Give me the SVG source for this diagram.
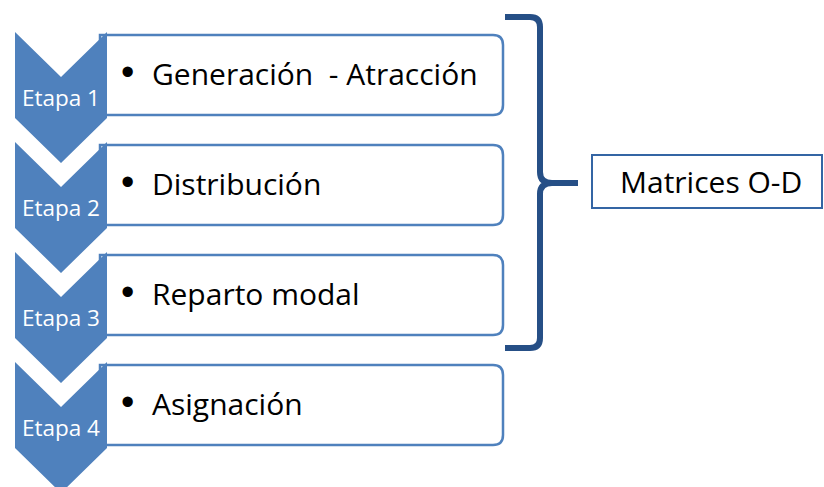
<svg xmlns="http://www.w3.org/2000/svg" width="824" height="487" viewBox="0 0 824 487">
<style>
.chev{fill:#4f81bd}
.box{fill:#fff;stroke:#4f81bd;stroke-width:2.5}
.et{font-family:"Open Sans","Liberation Sans",Arial,sans-serif;font-size:22.5px;fill:#fff;text-anchor:middle}
.tx{font-family:"Open Sans","Liberation Sans",Arial,sans-serif;font-size:30px;fill:#000}
.bu{font-family:"Liberation Sans",Arial,sans-serif;font-size:38px}
</style>
<rect width="824" height="487" fill="#fff"/>
<g id="step1">
<path class="box" d="M100 35 H493 Q503 35 503 45 V105 Q503 115 493 115 H100 Z"/>
<polygon class="chev" points="15,32 61,77 107,32 107,118 61,163 15,118"/>
<text class="et" x="61" y="106">Etapa 1</text>
<text class="tx" y="85"><tspan class="bu" x="121">•</tspan><tspan x="152">Generación&#160; - Atracción</tspan></text>
</g>
<g id="step2">
<path class="box" d="M100 145 H493 Q503 145 503 155 V215 Q503 225 493 225 H100 Z"/>
<polygon class="chev" points="15,142 61,187 107,142 107,228 61,273 15,228"/>
<text class="et" x="61" y="216">Etapa 2</text>
<text class="tx" y="195"><tspan class="bu" x="121">•</tspan><tspan x="152">Distribución</tspan></text>
</g>
<g id="step3">
<path class="box" d="M100 255 H493 Q503 255 503 265 V325 Q503 335 493 335 H100 Z"/>
<polygon class="chev" points="15,252 61,297 107,252 107,338 61,383 15,338"/>
<text class="et" x="61" y="326">Etapa 3</text>
<text class="tx" y="305"><tspan class="bu" x="121">•</tspan><tspan x="152">Reparto modal</tspan></text>
</g>
<g id="step4">
<path class="box" d="M100 365 H493 Q503 365 503 375 V435 Q503 445 493 445 H100 Z"/>
<polygon class="chev" points="15,362 61,407 107,362 107,448 61,493 15,448"/>
<text class="et" x="61" y="436">Etapa 4</text>
<text class="tx" y="415"><tspan class="bu" x="121">•</tspan><tspan x="152">Asignación</tspan></text>
</g>
<g id="connectors">
<path d="M505 17 H530 Q540 17 540 27 V172 Q540 183 552 183 H578 M552 183 Q540 183 540 194 V338 Q540 348 530 348 H505" fill="none" stroke="#264f86" stroke-width="6" stroke-linejoin="round"/>
</g>
<g id="matrices">
<rect x="592" y="155" width="230" height="53" fill="#fff" stroke="#3465a4" stroke-width="2"/>
<text x="620" y="193" font-family="Open Sans,Liberation Sans,Arial,sans-serif" font-size="30" fill="#000">Matrices O-D</text>
</g>
</svg>
